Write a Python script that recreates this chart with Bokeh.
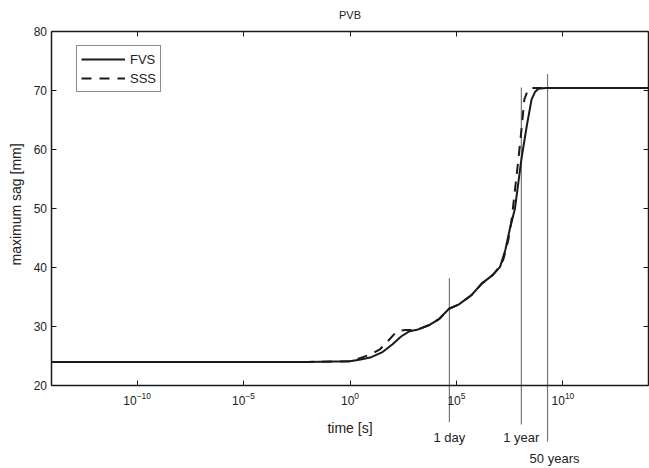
import math
from bokeh.plotting import figure
from bokeh.models import (ColumnDataSource, Whisker, LabelSet, Label, FixedTicker, LogAxis,
                          LinearAxis, Range1d, CustomJSTickFormatter)
from bokeh.core.properties import value
from bokeh.embed import file_html
from bokeh.resources import INLINE

# ---- data (time given as log10 of seconds) ----
fvs_exp = [-14, -2, 0.0, 0.5, 1.0, 1.5, 2.0, 2.4, 2.8, 3.2, 3.7, 4.2, 4.65, 5.1, 5.7,
           6.2, 6.7, 7.05, 7.3, 7.5, 7.75, 8.05, 8.3, 8.53, 8.7, 8.85, 9.2, 14]
fvs_sag = [24.0, 24.0, 24.1, 24.4, 24.8, 25.6, 27.0, 28.3, 29.2, 29.5, 30.2, 31.3, 33.0, 33.7, 35.3,
           37.3, 38.7, 40.1, 43.0, 46.4, 50.0, 58.3, 63.9, 68.5, 69.8, 70.3, 70.4, 70.4]

sss_exp = [-14, -2, 0.0, 0.6, 1.0, 1.4, 1.85, 2.2, 2.6, 3.0, 3.2, 3.7, 4.2, 4.65, 5.1, 5.7,
           6.2, 6.7, 7.0, 7.2, 7.44, 7.6, 7.91, 8.07, 8.19, 8.35, 8.45, 14]
sss_sag = [24.0, 24.0, 24.1, 24.8, 25.3, 26.1, 27.8, 29.2, 29.4, 29.4, 29.5, 30.2, 31.3, 33.0, 33.7, 35.3,
           37.3, 38.7, 40.0, 41.3, 44.7, 48.3, 58.3, 63.9, 68.5, 70.0, 70.4, 70.4]

x_tick_exp = [-10, -5, 0, 5, 10]
y_ticks = [20, 30, 40, 50, 60, 70, 80]
x_lim_exp = (-14, 14)
y_lim = (20, 80)

event_labels = ["1 day", "1 year", "50 years"]
event_exp = [4.67, 8.05, 9.28]
event_top = [38.2, 70.5, 72.8]
event_bottom = [13.78, 13.39, 10.51]
event_label_y = [11.24, 11.24, 7.7]
event_label_dx = [0, 0, 7]

# ---- canvas extents (the frame covers the whole canvas; axes are pinned) ----
X_VIEW = (-16.419, 14.07)    # log10 s
Y_VIEW = (5.93, 85.25)       # mm

FONT = "Liberation Sans"
INK = "#1a1a1a"
TXT = "#222222"

p = figure(width=649, height=468, x_axis_type="log",
           x_range=Range1d(10 ** X_VIEW[0], 10 ** X_VIEW[1]), y_range=Range1d(*Y_VIEW),
           output_backend="svg", toolbar_location=None,
           min_border_left=0, min_border_right=0, min_border_top=0, min_border_bottom=0)

p.xgrid.visible = False
p.ygrid.visible = False
p.outline_line_color = None
p.background_fill_color = "white"
p.border_fill_color = "white"

xt = [10.0 ** e for e in x_tick_exp]
xb = (10.0 ** x_lim_exp[0], 10.0 ** x_lim_exp[1])

def style_axis(ax):
    ax.axis_line_color = INK
    ax.axis_line_width = 1.5
    ax.major_tick_in = 5
    ax.major_tick_out = 0
    ax.major_tick_line_color = INK
    ax.minor_tick_line_color = None
    ax.major_label_text_font = FONT
    ax.major_label_text_font_size = "12px"
    ax.major_label_text_color = TXT

xa = p.xaxis[0]
xa.ticker = FixedTicker(ticks=xt)
xa.fixed_location = y_lim[0]
xa.bounds = xb
style_axis(xa)
xa.major_label_standoff = 7

ya = p.yaxis[0]
ya.ticker = FixedTicker(ticks=y_ticks)
ya.fixed_location = xb[0]
ya.bounds = y_lim
style_axis(ya)
ya.major_label_standoff = 5

blank = CustomJSTickFormatter(code="return ''")
top = LogAxis(ticker=FixedTicker(ticks=xt), formatter=blank, fixed_location=y_lim[1], bounds=xb)
style_axis(top)
top.major_label_standoff = 0
p.add_layout(top, "above")
right = LinearAxis(ticker=FixedTicker(ticks=y_ticks), formatter=blank,
                   fixed_location=xb[1], bounds=y_lim)
style_axis(right)
right.major_label_standoff = 0
p.add_layout(right, "right")

# titles / axis labels
p.add_layout(Label(x=1.0, y=82.8, text="PVB", text_align="center", text_baseline="middle",
                   text_font=FONT, text_font_size="11px", text_color=TXT))
p.add_layout(Label(x=1.0, y=12.71, text="time [s]", text_align="center", text_baseline="middle",
                   text_font=FONT, text_font_size="14px", text_color=TXT))
p.add_layout(Label(x=10 ** -15.71, y=50.68, text="maximum sag [mm]", angle=math.pi / 2,
                   text_align="center", text_baseline="middle",
                   text_font=FONT, text_font_size="14px", text_color=TXT))

# event markers
ev = ColumnDataSource(dict(x=[10.0 ** e for e in event_exp], top=event_top, bottom=event_bottom,
                           ly=event_label_y, dx=event_label_dx, text=event_labels))
w = Whisker(base="x", lower="bottom", upper="top", source=ev, dimension="height",
            line_color="#777777", line_width=1.2, lower_head=None, upper_head=None)
p.add_layout(w)
labels = LabelSet(x="x", y="ly", text="text", x_offset="dx", source=ev,
                  text_align="center", text_baseline="middle",
                  text_font=value(FONT), text_font_size="13px", text_color=TXT)
p.add_layout(labels)

# curves
fvs_t = [10.0 ** e for e in fvs_exp]
sss_t = [10.0 ** e for e in sss_exp]
p.line(fvs_t, fvs_sag, line_color=INK, line_width=2.0, legend_label="FVS")
p.line(sss_t, sss_sag, line_color=INK, line_width=2.0, line_dash="10 8", legend_label="SSS")

lg = p.legend[0]
lg.location = (76, 376)
lg.margin = 0
lg.padding = 4
lg.spacing = 1
lg.glyph_width = 44
lg.glyph_height = 18
lg.label_height = 18
lg.label_standoff = 5
lg.label_text_font = FONT
lg.label_text_font_size = "13px"
lg.label_text_color = TXT
lg.border_line_color = INK
lg.border_line_width = 1.5
lg.background_fill_alpha = 1.0

open("out.html", "w").write(file_html(p, INLINE))
